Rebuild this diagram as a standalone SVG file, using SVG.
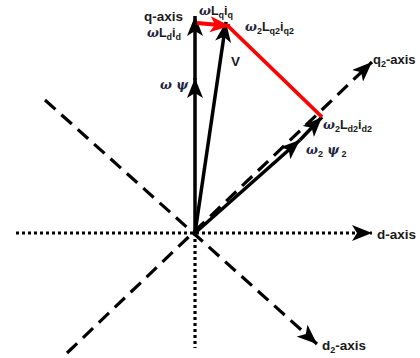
<svg xmlns="http://www.w3.org/2000/svg" width="420" height="358" viewBox="0 0 420 358">
<style>
.ax{stroke:#000;stroke-width:3.2;fill:none}
.dot{stroke-dasharray:3 3}
.dash{stroke-dasharray:14 8}
.vec{stroke:#000;stroke-width:3.5;fill:none}
.red{stroke:#f00;stroke-width:3.8;fill:none}
text{font-family:"Liberation Sans",Arial,sans-serif;font-weight:bold;fill:#1a1a1a}
.lb{font-size:13.5px}
.lbs{font-size:13px}
.sm{font-size:12.5px}
.sub{font-size:9px}
.gr{font-family:"DejaVu Serif","Liberation Serif",serif;font-style:italic;fill:#1e2440}
</style>
<defs>
<marker id="ah" viewBox="0 0 20 16" refX="20" refY="8" markerWidth="20" markerHeight="16" markerUnits="userSpaceOnUse" orient="auto">
<path d="M0,0 L20,8 L0,16 L5,8 z" fill="#000"/>
</marker>
<marker id="ahr" viewBox="0 0 20 16" refX="20" refY="8" markerWidth="20" markerHeight="17" markerUnits="userSpaceOnUse" orient="auto">
<path d="M0,0 L20,8 L0,16 L5,8 z" fill="#f00"/>
</marker>
</defs>
<g id="connectors">
<line class="ax dot" x1="16" y1="233" x2="372" y2="233" marker-end="url(#ah)"/>
<line class="ax dot" x1="195" y1="233" x2="195" y2="348"/>
<line class="ax dash" x1="67" y1="353" x2="372" y2="62" marker-end="url(#ah)"/>
<line class="ax dash" x1="45" y1="100" x2="317" y2="344" marker-end="url(#ah)"/>
<line class="vec" x1="195" y1="233" x2="195" y2="78" marker-end="url(#ah)"/>
<line class="vec" x1="195" y1="80" x2="195" y2="16" marker-end="url(#ah)"/>
<line class="vec" x1="195" y1="233" x2="226" y2="22" marker-end="url(#ah)"/>
<line class="vec" x1="195" y1="233" x2="300" y2="140" marker-end="url(#ah)"/>
<line class="vec" x1="300" y1="140" x2="322" y2="117" marker-end="url(#ah)"/>
<line class="red" x1="322" y1="117" x2="228" y2="26"/>
<line class="red" x1="197" y1="23" x2="230" y2="26" marker-end="url(#ahr)"/>
</g>
<g id="label-q-axis"><text class="lb" x="144" y="21">q-axis</text></g>
<g id="label-wLdid"><text class="sm" x="147" y="37"><tspan class="gr">ω</tspan>L<tspan class="sub" dy="3">d</tspan><tspan dy="-3">i</tspan><tspan class="sub" dy="3">d</tspan></text></g>
<g id="label-wLqiq"><text class="sm" x="199" y="15"><tspan class="gr">ω</tspan>L<tspan class="sub" dy="3">q</tspan><tspan dy="-3">i</tspan><tspan class="sub" dy="3">q</tspan></text></g>
<g id="label-w2Lq2iq2"><text class="sm" x="245" y="31"><tspan class="gr">ω</tspan><tspan class="sub" dy="3">2</tspan><tspan dy="-3">L</tspan><tspan class="sub" dy="3">q2</tspan><tspan dy="-3">i</tspan><tspan class="sub" dy="3">q2</tspan></text></g>
<g id="label-V"><text class="lb" x="231" y="66">V</text></g>
<g id="label-wpsi"><text class="sm gr" x="160" y="89">ω ψ</text></g>
<g id="label-w2Ld2id2"><text class="sm" x="323" y="129"><tspan class="gr">ω</tspan><tspan class="sub" dy="3">2</tspan><tspan dy="-3">L</tspan><tspan class="sub" dy="3">d2</tspan><tspan dy="-3">i</tspan><tspan class="sub" dy="3">d2</tspan></text></g>
<g id="label-w2psi2"><text class="sm" x="306" y="154"><tspan class="gr">ω</tspan><tspan class="sub" dy="3">2</tspan><tspan class="gr" dy="-3"> ψ</tspan><tspan class="sub" dy="3"> 2</tspan></text></g>
<g id="label-q2-axis"><text class="lbs" x="373" y="64">q<tspan class="sub" dy="3">2</tspan><tspan dy="-3">-axis</tspan></text></g>
<g id="label-d-axis"><text class="lb" x="377" y="239">d-axis</text></g>
<g id="label-d2-axis"><text class="lb" x="322" y="350">d<tspan class="sub" dy="3">2</tspan><tspan dy="-3">-axis</tspan></text></g>
</svg>
